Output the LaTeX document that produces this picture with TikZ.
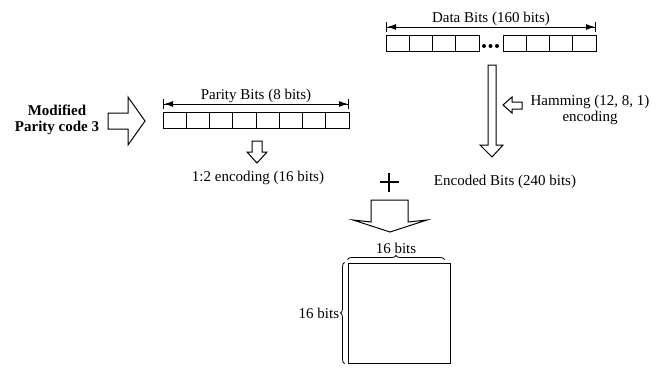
\documentclass[tikz,border=0pt]{standalone}
\usepackage{fontspec}
\setmainfont{Liberation Serif}
\usetikzlibrary{arrows.meta,decorations.pathreplacing,positioning}

\tikzset{
  bitcell/.style={draw, minimum width=23.25pt, minimum height=16pt, inner sep=0pt, outer sep=0pt},
  span/.style={{Bar[width=10pt]Latex[length=9pt,width=6pt]}-{Latex[length=9pt,width=6pt]Bar[width=10pt]}},
  hollow/.style={draw, fill=white, line join=miter},
  lbl/.style={font=\fontsize{15}{16}\selectfont, inner sep=1pt},
  bracey/.style={decorate, decoration={brace, amplitude=4pt}, line width=0.8pt},
}

\begin{document}
\begin{tikzpicture}[x=1pt, y=-1pt, line width=1pt]
  \useasboundingbox (0,0) rectangle (665,372);

  % --- parity bits: 8 cells ---
  \foreach \i in {1,...,8}
    \node[bitcell] (p\i) at ({163+23.25*(\i-0.5)},120) {};
  \draw[span] ([yshift=8pt]p1.north west) -- ([yshift=8pt]p8.north east)
    node[midway, above, lbl] (plbl) {Parity Bits (8 bits)};

  % --- data bits: 4 cells, dots, 4 cells ---
  \foreach \i in {1,...,4}
    \node[bitcell] (d\i) at ({386+23.25*(\i-0.5)},43) {};
  \foreach \i in {5,...,8}
    \node[bitcell] (d\i) at ({503+23.25*(\i-4.5)},43) {};
  \foreach \x in {484,490.5,497} \fill (\x,46) circle (2pt);
  \draw[span] ([yshift=8pt]d1.north west) -- ([yshift=8pt]d8.north east)
    node[midway, above, lbl] (dlbl) {Data Bits (160 bits)};

  % --- source of the parity bits ---
  \node[lbl, font=\fontsize{15}{16}\selectfont\bfseries, align=center] (mod) at (57,120) {Modified\\Parity code 3};
  \draw[hollow] (108,113) -- (128,113) -- (128,97) -- (145,121) -- (128,145) -- (128,129) -- (108,129) -- cycle;

  % --- 1:2 encoding of the parity bits ---
  \draw[hollow] (252,141) -- (262,141) -- (262,152) -- (267,152) -- (257,163) -- (247,152) -- (252,152) -- cycle;
  \node[lbl] (penc) at (258,178) {1:2 encoding (16 bits)};

  % --- Hamming encoding of the data bits ---
  \draw[hollow] (488,65) -- (496,65) -- (496,145) -- (503,145) -- (492,157) -- (480,145) -- (488,145) -- cycle;
  \draw[hollow] (522,102) -- (512,102) -- (512,97) -- (503,105) -- (512,113) -- (512,109) -- (522,109) -- cycle;
  \node[lbl, align=center] (ham) at (590,110) {Hamming (12, 8, 1)\\encoding};
  \node[lbl] (denc) at (505,182) {Encoded Bits (240 bits)};

  % --- combine ---
  \draw[line width=1.3pt] (380,182) -- (399,182) (389,173) -- (389,192);
  \draw[hollow] (371,200) -- (408,200) -- (408,222) -- (427,220) -- (390,232) -- (353,220) -- (371,222) -- cycle;

  % --- 16 x 16 block ---
  \node[draw, minimum width=102pt, minimum height=100pt, inner sep=0pt] (blk) at (399,313) {};
  \draw[bracey] ([yshift=3pt]blk.north west) -- ([xshift=-6pt,yshift=3pt]blk.north east)
    node[midway, above=4pt, lbl] (wlbl) {16 bits};
  \draw[bracey] ([xshift=-3pt]blk.south west) -- ([xshift=-3pt]blk.north west)
    node[midway, left=4pt, lbl] (hlbl) {16 bits};
\end{tikzpicture}
\end{document}
